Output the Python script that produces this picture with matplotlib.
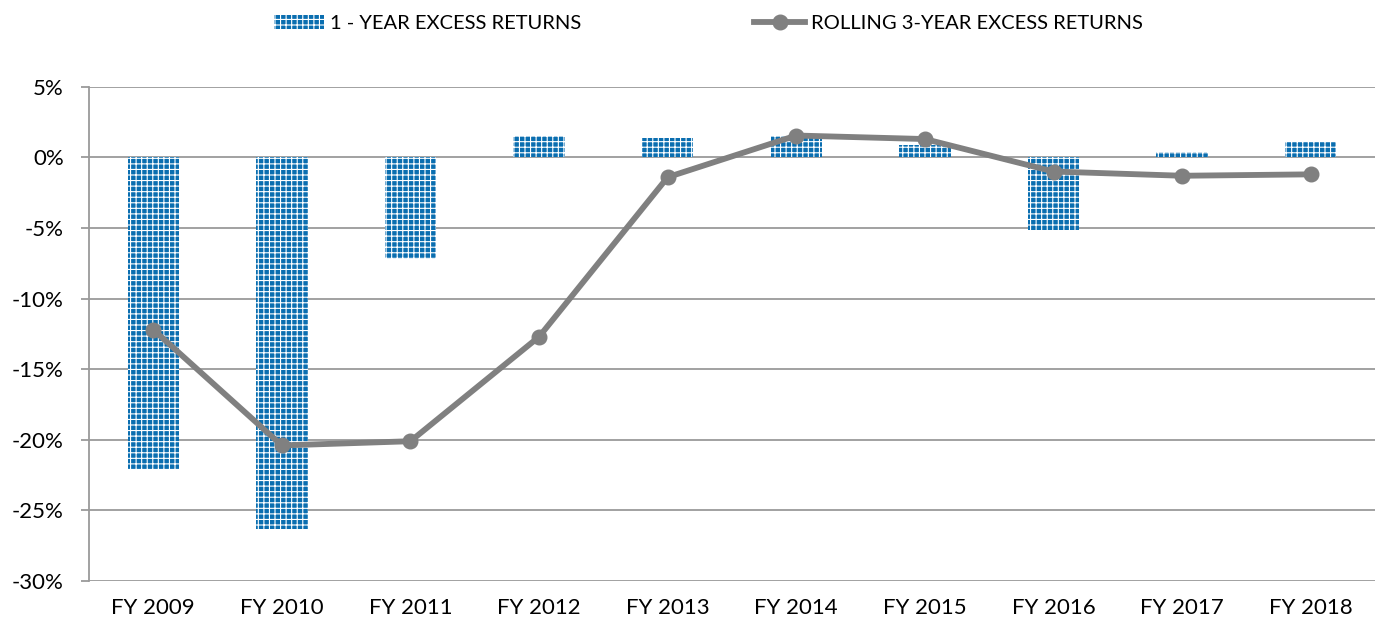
import numpy as np
import matplotlib as mpl
import matplotlib.pyplot as plt

# Chart data
years = ['FY 2009', 'FY 2010', 'FY 2011', 'FY 2012', 'FY 2013',
         'FY 2014', 'FY 2015', 'FY 2016', 'FY 2017', 'FY 2018']
one_year = [-22.1, -26.3, -7.2, 1.55, 1.4, 1.55, 0.85, -5.2, 0.4, 1.1]
rolling_3y = [-12.2, -20.4, -20.1, -12.7, -1.4, 1.55, 1.3, -1.0, -1.3, -1.2]
y_ticks = [5, 0, -5, -10, -15, -20, -25, -30]

mpl.rcParams.update({
    'font.family': ['Lato', 'DejaVu Sans'],
    'font.size': 16,
    'hatch.color': 'white',
    'hatch.linewidth': 0.8,
})

fig = plt.figure(figsize=(13.84, 6.29), dpi=100)
ax = fig.add_axes([0.0643, 0.0763, 0.9292, 0.7857])

x = np.arange(len(years))
grid_col = '#9a9a9a'

bars = ax.bar(x, one_year, width=0.4, color='#0a6eb0', edgecolor='white',
              linewidth=0, hatch='+++', label='1 - YEAR EXCESS RETURNS', zorder=2)
line, = ax.plot(x, rolling_3y, color='#808080', linewidth=4.2, marker='o',
                markersize=10.5, label='ROLLING 3-YEAR EXCESS RETURNS', zorder=3)

ax.set_xlim(-0.5, len(years) - 0.5)
ax.set_ylim(-30, 5)
ax.set_yticks(y_ticks)
ax.set_yticklabels(['%d%%' % v for v in y_ticks])
ax.set_xticks(x)
ax.set_xticklabels(years)

ax.yaxis.grid(True, color=grid_col, linewidth=1.3, zorder=0)
ax.set_axisbelow(True)
for side in ['top', 'right', 'bottom']:
    ax.spines[side].set_visible(False)
ax.spines['left'].set_color(grid_col)
ax.spines['left'].set_linewidth(1.3)
ax.tick_params(axis='y', length=6, width=1.3, color=grid_col, labelsize=16, pad=12)
ax.tick_params(axis='x', length=0, labelsize=16, pad=12)

fig.legend([bars, line], [bars.get_label(), line.get_label()],
           loc='upper center', bbox_to_anchor=(0.5116, 1.005), ncol=2, frameon=False,
           fontsize=14.5, handlelength=2.5, columnspacing=8.6, handletextpad=0.3)

fig.savefig('out.png', dpi=100)
